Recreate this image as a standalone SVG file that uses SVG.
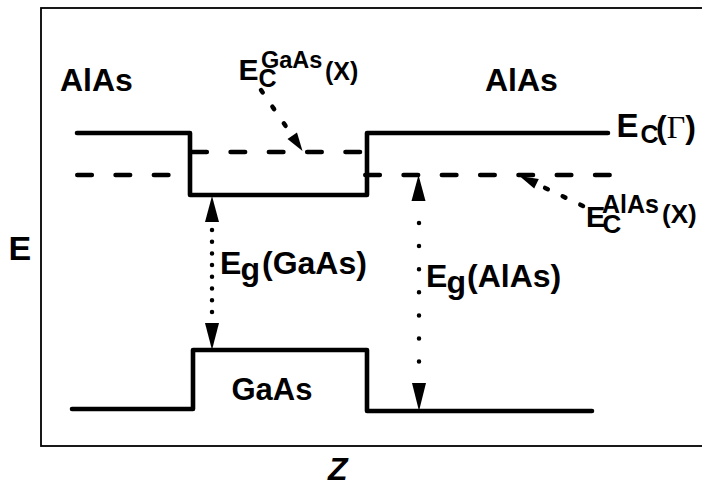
<svg xmlns="http://www.w3.org/2000/svg" width="702" height="486" viewBox="0 0 702 486">
<style>
.t{font-family:"Liberation Sans",Arial,sans-serif;font-weight:bold;fill:#000}
.band{fill:none;stroke:#000;stroke-width:4.6;stroke-linecap:round;stroke-linejoin:round}
.dash{fill:none;stroke:#000;stroke-width:4.6;stroke-linecap:round;stroke-dasharray:14.5 23.8}
.dot{fill:none;stroke:#000;stroke-width:4.5;stroke-linecap:round}
.head{fill:#000}
</style>
<rect x="0" y="0" width="702" height="486" fill="#fff"/>
<rect id="frame" x="41" y="8" width="720" height="438" fill="none" stroke="#000" stroke-width="1.8"/>
<g id="bands">
<path id="conduction" class="band" d="M77,133 H190 V195 H367 V133 H608"/>
<path id="valence" class="band" d="M72,409 H193 V350 H367 V411 H592"/>
<path id="x-gaas" class="dash" d="M192.3,152 H366"/>
<path id="x-alas-left" class="dash" d="M77.3,175 H172"/>
<path id="x-alas-right" class="dash" d="M365.3,175 H612"/>
</g>
<g id="connectors">
<path class="dot" d="M212,230 V318" stroke-dasharray="0 11.7"/>
<polygon class="head" points="212,196 205,222 219,222"/>
<polygon class="head" points="212,350 205,323 219,323"/>
<path class="dot" d="M419,223 V362" stroke-dasharray="0 23.1"/>
<polygon class="head" points="418.5,175 411.5,201 425.5,201"/>
<polygon class="head" points="419,411 412,383 426,383"/>
<path class="dot" d="M261,90 L286,126.5" stroke-width="3.6" stroke-dasharray="3 17.2"/>
<polygon class="head" points="302.5,151 287.5,139 297,132.5"/>
<path class="dot" d="M583,206 L540,185.5" stroke-width="3.6" stroke-dasharray="3 16.5"/>
<polygon class="head" points="519.5,176 538.8,179 534.2,188.5"/>
</g>
<g id="labels">
<text id="alas-left" class="t" x="60" y="91" font-size="32">AlAs</text>
<text id="alas-right" class="t" x="485" y="91" font-size="32">AlAs</text>
<text id="gaas" class="t" x="231.5" y="400" font-size="31">GaAs</text>
<text id="e-axis" class="t" x="8.5" y="260" font-size="34">E</text>
<text id="z-axis" class="t" x="328" y="480" font-size="32" font-style="italic">Z</text>
<text id="eg-gaas" class="t" font-size="32"><tspan x="220" y="274">E</tspan><tspan x="240.5" y="280">g</tspan><tspan x="262" y="274">(GaAs)</tspan></text>
<text id="eg-alas" class="t" font-size="32"><tspan x="426" y="287">E</tspan><tspan x="446.5" y="293">g</tspan><tspan x="467" y="287">(AlAs)</tspan></text>
<text id="ec-gamma" class="t" font-size="32"><tspan x="616.5" y="137" font-size="33">E</tspan><tspan x="640.5" y="143" font-size="25">C</tspan><tspan x="656" y="138">(</tspan><tspan font-family="'Liberation Serif','Times New Roman',serif" font-weight="normal">Γ</tspan><tspan>)</tspan></text>
<text id="ec-gaas-x" class="t" font-size="25"><tspan x="238.5" y="80" font-size="30">E</tspan><tspan x="258.5" y="87">C</tspan><tspan x="261" y="68" font-size="23.5">GaAs</tspan><tspan x="325" y="80">(X)</tspan></text>
<text id="ec-alas-x" class="t" font-size="26"><tspan x="586" y="227" font-size="29">E</tspan><tspan x="602.5" y="233">C</tspan><tspan x="602" y="213" font-size="25">AlAs</tspan><tspan x="662" y="223">(X)</tspan></text>
</g>
</svg>
